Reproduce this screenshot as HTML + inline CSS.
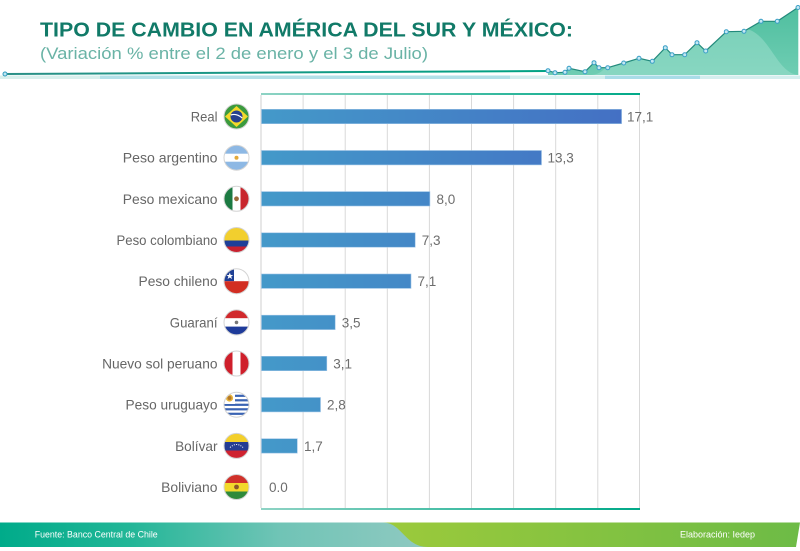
<!DOCTYPE html>
<html><head><meta charset="utf-8"><style>
html,body{margin:0;padding:0;background:#fff;}
svg{display:block;}
text{font-family:"Liberation Sans",sans-serif;}
</style></head><body>
<svg width="800" height="551" viewBox="0 0 800 551" xmlns="http://www.w3.org/2000/svg">
<defs>
<linearGradient id="barg" gradientUnits="userSpaceOnUse" x1="261" y1="0" x2="622" y2="0">
<stop offset="0" stop-color="#4499c9"/><stop offset="1" stop-color="#4470c4"/></linearGradient>
<linearGradient id="axl" gradientUnits="userSpaceOnUse" x1="261" y1="0" x2="640" y2="0">
<stop offset="0" stop-color="#8ed3c4"/><stop offset="1" stop-color="#00a988"/></linearGradient>
<linearGradient id="hl" gradientUnits="userSpaceOnUse" x1="5" y1="0" x2="548" y2="0">
<stop offset="0" stop-color="#2a8f86"/><stop offset="1" stop-color="#00a384"/></linearGradient>
<linearGradient id="ft" gradientUnits="userSpaceOnUse" x1="0" y1="0" x2="430" y2="0">
<stop offset="0" stop-color="#00ab8a"/><stop offset="0.3" stop-color="#22b697"/><stop offset="0.65" stop-color="#70c4b6"/><stop offset="1" stop-color="#90c9c1"/></linearGradient>
<linearGradient id="fg" gradientUnits="userSpaceOnUse" x1="383" y1="0" x2="800" y2="0">
<stop offset="0" stop-color="#9cca3b"/><stop offset="1" stop-color="#6dbb46"/></linearGradient>
<linearGradient id="area" x1="0" y1="0" x2="0" y2="1">
<stop offset="0" stop-color="#4fbf9f"/><stop offset="1" stop-color="#6fcdb3"/></linearGradient>
<clipPath id="c0"><circle cx="236.5" cy="116.5" r="12.5"/></clipPath>
<clipPath id="c1"><circle cx="236.5" cy="157.7" r="12.5"/></clipPath>
<clipPath id="c2"><circle cx="236.5" cy="198.8" r="12.5"/></clipPath>
<clipPath id="c3"><circle cx="236.5" cy="240" r="12.5"/></clipPath>
<clipPath id="c4"><circle cx="236.5" cy="281.2" r="12.5"/></clipPath>
<clipPath id="c5"><circle cx="236.5" cy="322.4" r="12.5"/></clipPath>
<clipPath id="c6"><circle cx="236.5" cy="363.5" r="12.5"/></clipPath>
<clipPath id="c7"><circle cx="236.5" cy="404.7" r="12.5"/></clipPath>
<clipPath id="c8"><circle cx="236.5" cy="445.9" r="12.5"/></clipPath>
<clipPath id="c9"><circle cx="236.5" cy="487" r="12.5"/></clipPath>
<clipPath id="hdr"><polygon points="548,70.7 555,72.7 565,72.3 569,68.3 585,71.7 594,62.7 599,67.7 607.7,67.7 623.7,63 639,58.3 652.3,61.3 665.3,47.7 672,54.7 684.7,54.7 697,42.7 705.7,51 726.3,31.7 744,31.3 761,21.3 777.3,21.3 798.3,7.3 798.3,75 548,75"/></clipPath>
</defs>

<!-- header -->
<text x="40" y="36.5" font-size="20" font-weight="bold" fill="#117a68" textLength="533" lengthAdjust="spacingAndGlyphs">TIPO DE CAMBIO EN AMÉRICA DEL SUR Y MÉXICO:</text>
<text x="40" y="59" font-size="17" fill="#6ab3a6" textLength="388" lengthAdjust="spacingAndGlyphs">(Variación % entre el 2 de enero y el 3 de Julio)</text>

<!-- light band -->
<rect x="0" y="75.5" width="100" height="3.5" fill="#d8efec"/>
<rect x="100" y="75.5" width="410" height="3.5" fill="#b2e0e8"/>
<rect x="510" y="75.5" width="95" height="3.5" fill="#d4eeee"/>
<rect x="605" y="75.5" width="95" height="3.5" fill="#a9dce8"/>
<rect x="700" y="75.5" width="100" height="3.5" fill="#d4eeee"/>

<!-- header area chart -->
<polygon points="548,70.7 555,72.7 565,72.3 569,68.3 585,71.7 594,62.7 599,67.7 607.7,67.7 623.7,63 639,58.3 652.3,61.3 665.3,47.7 672,54.7 684.7,54.7 697,42.7 705.7,51 726.3,31.7 744,31.3 761,21.3 777.3,21.3 798.3,7.3 798.3,75 548,75" fill="url(#area)"/>
<g clip-path="url(#hdr)" fill="#a6e2d2" opacity="0.45">
<path d="M620,75 C650,75 650,35 680,35 C710,35 710,75 740,75 Z"/>
<path d="M660,75 C690,75 690,30 720,30 C750,30 750,75 780,75 Z"/>
<path d="M690,75 C715,75 715,28 740,28 C770,28 775,75 800,75 Z"/>
<path d="M590,75 C610,75 610,50 630,50 C650,50 650,75 670,75 Z"/>
</g>
<line x1="5" y1="74" x2="548" y2="71" stroke="url(#hl)" stroke-width="2"/>
<circle cx="5" cy="74" r="2" fill="#bfe6f0" stroke="#2e9bbf" stroke-width="1"/>
<polyline points="548,70.7 555,72.7 565,72.3 569,68.3 585,71.7 594,62.7 599,67.7 607.7,67.7 623.7,63 639,58.3 652.3,61.3 665.3,47.7 672,54.7 684.7,54.7 697,42.7 705.7,51 726.3,31.7 744,31.3 761,21.3 777.3,21.3 798.3,7.3" fill="none" stroke="#238a7c" stroke-width="1.2"/>
<g fill="#c4e8f2" stroke="#3a9fc7" stroke-width="1">
<circle cx="548" cy="70.7" r="2"/><circle cx="555" cy="72.7" r="2"/><circle cx="565" cy="72.3" r="2"/><circle cx="569" cy="68.3" r="2"/><circle cx="585" cy="71.7" r="2"/><circle cx="594" cy="62.7" r="2"/><circle cx="599" cy="67.7" r="2"/><circle cx="607.7" cy="67.7" r="2"/><circle cx="623.7" cy="63" r="2"/><circle cx="639" cy="58.3" r="2"/><circle cx="652.3" cy="61.3" r="2"/><circle cx="665.3" cy="47.7" r="2"/><circle cx="672" cy="54.7" r="2"/><circle cx="684.7" cy="54.7" r="2"/><circle cx="697" cy="42.7" r="2"/><circle cx="705.7" cy="51" r="2"/><circle cx="726.3" cy="31.7" r="2"/><circle cx="744" cy="31.3" r="2"/><circle cx="761" cy="21.3" r="2"/><circle cx="777.3" cy="21.3" r="2"/><circle cx="798" cy="7.5" r="2"/>
</g>

<!-- grid -->
<g stroke="#d9d9d9" stroke-width="1">
<line x1="303.1" y1="95" x2="303.1" y2="508"/>
<line x1="345.2" y1="95" x2="345.2" y2="508"/>
<line x1="387.3" y1="95" x2="387.3" y2="508"/>
<line x1="429.4" y1="95" x2="429.4" y2="508"/>
<line x1="471.5" y1="95" x2="471.5" y2="508"/>
<line x1="513.6" y1="95" x2="513.6" y2="508"/>
<line x1="555.7" y1="95" x2="555.7" y2="508"/>
<line x1="597.8" y1="95" x2="597.8" y2="508"/>
<line x1="639.5" y1="95" x2="639.5" y2="508"/>
</g>
<line x1="261" y1="95" x2="261" y2="508" stroke="#cfcfcf" stroke-width="1"/>
<line x1="261" y1="94" x2="640" y2="94" stroke="url(#axl)" stroke-width="2"/>
<line x1="261" y1="509" x2="640" y2="509" stroke="url(#axl)" stroke-width="2"/>

<!-- bars -->
<g fill="url(#barg)" stroke="#9cc3e6" stroke-width="0.6">
<rect x="261.5" y="109.3" width="360.1" height="14.4"/>
<rect x="261.5" y="150.5" width="280" height="14.4"/>
<rect x="261.5" y="191.6" width="168.4" height="14.4"/>
<rect x="261.5" y="232.8" width="153.7" height="14.4"/>
<rect x="261.5" y="274" width="149.5" height="14.4"/>
<rect x="261.5" y="315.2" width="73.7" height="14.4"/>
<rect x="261.5" y="356.3" width="65.3" height="14.4"/>
<rect x="261.5" y="397.5" width="59" height="14.4"/>
<rect x="261.5" y="438.7" width="35.8" height="14.4"/>
</g>

<!-- value labels -->
<g font-size="13.5" fill="#6d6d6d">
<text x="627" y="121.5">17,1</text>
<text x="547.5" y="162.7">13,3</text>
<text x="436.5" y="203.8">8,0</text>
<text x="421.7" y="245">7,3</text>
<text x="417.5" y="286.2">7,1</text>
<text x="341.7" y="327.4">3,5</text>
<text x="333.3" y="368.5">3,1</text>
<text x="327" y="409.7">2,8</text>
<text x="304" y="450.9">1,7</text>
<text x="269" y="492">0.0</text>
</g>

<!-- category labels -->
<g font-size="14" fill="#666" text-anchor="end">
<text x="217.5" y="121.5" textLength="26.7" lengthAdjust="spacingAndGlyphs">Real</text>
<text x="217.5" y="162.7" textLength="94.7" lengthAdjust="spacingAndGlyphs">Peso argentino</text>
<text x="217.5" y="203.8" textLength="94.7" lengthAdjust="spacingAndGlyphs">Peso mexicano</text>
<text x="217.5" y="245" textLength="101" lengthAdjust="spacingAndGlyphs">Peso colombiano</text>
<text x="217.5" y="286.2" textLength="79" lengthAdjust="spacingAndGlyphs">Peso chileno</text>
<text x="217.5" y="327.4" textLength="47.7" lengthAdjust="spacingAndGlyphs">Guaraní</text>
<text x="217.5" y="368.5" textLength="115.4" lengthAdjust="spacingAndGlyphs">Nuevo sol peruano</text>
<text x="217.5" y="409.7" textLength="92" lengthAdjust="spacingAndGlyphs">Peso uruguayo</text>
<text x="217.5" y="450.9" textLength="42.4" lengthAdjust="spacingAndGlyphs">Bolívar</text>
<text x="217.5" y="492" textLength="56.4" lengthAdjust="spacingAndGlyphs">Boliviano</text>
</g>

<!-- flags -->
<!-- Brazil -->
<g clip-path="url(#c0)">
<rect x="224" y="104" width="25" height="25" fill="#3b9a3d"/>
<polygon points="236.5,106 248,116.5 236.5,127 225,116.5" fill="#f3d92b"/>
<circle cx="236.5" cy="116.5" r="6" fill="#27408f"/>
<path d="M230.8,115 Q236.5,113 242.2,118" stroke="#fff" stroke-width="1.2" fill="none"/>
</g>
<!-- Argentina -->
<g clip-path="url(#c1)">
<rect x="224" y="145" width="25" height="25" fill="#8db8e4"/>
<rect x="224" y="153.7" width="25" height="8" fill="#fff"/>
<circle cx="236.5" cy="157.7" r="2" fill="#e2a93a"/>
</g>
<!-- Mexico -->
<g clip-path="url(#c2)">
<rect x="224" y="186" width="8.5" height="26" fill="#1c7a42"/>
<rect x="232.5" y="186" width="8" height="26" fill="#fff"/>
<rect x="240.5" y="186" width="9" height="26" fill="#c8262d"/>
<circle cx="236.5" cy="198.8" r="2.4" fill="#9a6a3a"/>
</g>
<!-- Colombia -->
<g clip-path="url(#c3)">
<rect x="224" y="227" width="25" height="13.5" fill="#f2cf2e"/>
<rect x="224" y="240.5" width="25" height="6" fill="#1e3f98"/>
<rect x="224" y="246.5" width="25" height="7" fill="#c8212f"/>
</g>
<!-- Chile -->
<g clip-path="url(#c4)">
<rect x="224" y="268" width="25" height="13.2" fill="#fff"/>
<rect x="224" y="268" width="10" height="13.2" fill="#1e3f94"/>
<rect x="224" y="281.2" width="25" height="13" fill="#d22e22"/>
<polygon points="229.8,272.5 230.7,275 233.2,275 231.2,276.5 232,279 229.8,277.5 227.6,279 228.4,276.5 226.4,275 228.9,275" fill="#fff"/>
</g>
<!-- Paraguay -->
<g clip-path="url(#c5)">
<rect x="224" y="309" width="25" height="9.3" fill="#d1292c"/>
<rect x="224" y="318.3" width="25" height="8.3" fill="#fff"/>
<rect x="224" y="326.6" width="25" height="9" fill="#1e3b9a"/>
<circle cx="236.5" cy="322.4" r="1.8" fill="#777"/>
</g>
<!-- Peru -->
<g clip-path="url(#c6)">
<rect x="224" y="350" width="8.5" height="26" fill="#cf1f2b"/>
<rect x="232.5" y="350" width="8" height="26" fill="#fff"/>
<rect x="240.5" y="350" width="9" height="26" fill="#cf1f2b"/>
</g>
<!-- Uruguay -->
<g clip-path="url(#c7)">
<rect x="224" y="392" width="25" height="26" fill="#fff"/>
<rect x="224" y="394.7" width="25" height="2.2" fill="#3a63b3"/>
<rect x="224" y="399.2" width="25" height="2.2" fill="#3a63b3"/>
<rect x="224" y="403.7" width="25" height="2.2" fill="#3a63b3"/>
<rect x="224" y="408.2" width="25" height="2.2" fill="#3a63b3"/>
<rect x="224" y="412.7" width="25" height="2.2" fill="#3a63b3"/>
<rect x="224" y="392" width="11" height="12" fill="#fff"/>
<circle cx="229.5" cy="398" r="3.6" fill="#e8b33a"/>
<circle cx="229.5" cy="398" r="2" fill="#b4792a"/>
</g>
<!-- Venezuela -->
<g clip-path="url(#c8)">
<rect x="224" y="433" width="25" height="9" fill="#f3cf2a"/>
<rect x="224" y="442" width="25" height="8.5" fill="#243c93"/>
<rect x="224" y="450.5" width="25" height="9" fill="#cf2230"/>
<path d="M230,447.5 Q236.5,441.5 243,447.5" stroke="#fff" stroke-width="1" stroke-dasharray="1,1.3" fill="none"/>
</g>
<!-- Bolivia -->
<g clip-path="url(#c9)">
<rect x="224" y="474" width="25" height="9" fill="#d0312a"/>
<rect x="224" y="483" width="25" height="8.5" fill="#f2d92c"/>
<rect x="224" y="491.5" width="25" height="9" fill="#2f8a3b"/>
<circle cx="236.5" cy="487" r="2.4" fill="#8a5a2a"/>
</g>
<g fill="none" stroke="#d4d4d4" stroke-width="1">
<circle cx="236.5" cy="116.5" r="12.5"/><circle cx="236.5" cy="157.7" r="12.5"/><circle cx="236.5" cy="198.8" r="12.5"/><circle cx="236.5" cy="240" r="12.5"/><circle cx="236.5" cy="281.2" r="12.5"/><circle cx="236.5" cy="322.4" r="12.5"/><circle cx="236.5" cy="363.5" r="12.5"/><circle cx="236.5" cy="404.7" r="12.5"/><circle cx="236.5" cy="445.9" r="12.5"/><circle cx="236.5" cy="487" r="12.5"/>
</g>

<!-- footer -->
<rect x="0" y="522.5" width="440" height="24.5" fill="url(#ft)"/>
<path d="M383,522.5 L800,522.5 L796,547 L428,547 C405,547 402,522.5 383,522.5 Z" fill="url(#fg)"/>
<text x="34.7" y="537.5" font-size="9" fill="#fff" textLength="123" lengthAdjust="spacingAndGlyphs">Fuente: Banco Central de Chile</text>
<text x="680" y="537.5" font-size="9" fill="#fff" textLength="75" lengthAdjust="spacingAndGlyphs">Elaboración: Iedep</text>
</svg>
</body></html>
